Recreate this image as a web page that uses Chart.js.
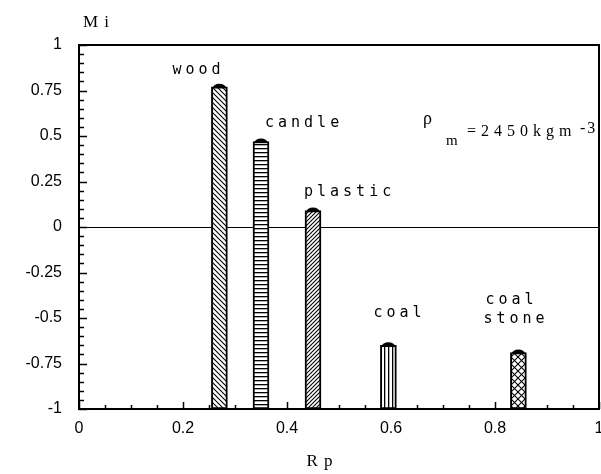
<!DOCTYPE html>
<html>
<head>
<meta charset="utf-8">
<script src="https://cdn.jsdelivr.net/npm/chart.js@4/dist/chart.umd.min.js"></script>
<style>
  html, body { margin: 0; padding: 0; background: #fff; }
  #wrap { width: 601px; height: 474px; }
</style>
</head>
<body>
<div id="wrap"><canvas id="c" width="601" height="474"></canvas></div>
<script>
// Particle materials, their Rp position and measured Mi value
const materials = ['wood', 'candle', 'plastic', 'coal', 'coal stone'];
const rpValues  = [0.27, 0.35, 0.45, 0.595, 0.845];
const miValues  = [0.77, 0.47, 0.09, -0.65, -0.69];
const hatchKinds = ['back', 'horiz', 'fwd', 'vert', 'cross'];

// Axis ticks
const xTicks = [0, 0.2, 0.4, 0.6, 0.8, 1];
const yTicks = [-1, -0.75, -0.5, -0.25, 0, 0.25, 0.5, 0.75, 1];
const yBase = -1;

// Hatch patterns for the bar fills
function makePattern(kind) {
  const sizes = { back: 5, fwd: 4, horiz: 4, vert: 4, cross: 7 };
  const s = sizes[kind];
  const c = document.createElement('canvas');
  c.width = s; c.height = s;
  const g = c.getContext('2d');
  g.fillStyle = '#fff';
  g.fillRect(0, 0, s, s);
  g.strokeStyle = '#000';
  g.fillStyle = '#000';
  g.lineWidth = 1.1;
  const line = (x1, y1, x2, y2) => { g.beginPath(); g.moveTo(x1, y1); g.lineTo(x2, y2); g.stroke(); };
  if (kind === 'back' || kind === 'cross') {
    line(-1, -1, s + 1, s + 1);
    line(-1, s - 1, 1, s + 1);
    line(s - 1, -1, s + 1, 1);
  }
  if (kind === 'fwd' || kind === 'cross') {
    line(-1, s + 1, s + 1, -1);
    line(-1, 1, 1, -1);
    line(s - 1, s + 1, s + 1, s - 1);
  }
  if (kind === 'horiz') g.fillRect(0, 0, s, 1.3);
  if (kind === 'vert') g.fillRect(0, 0, 1.3, s);
  return g.createPattern(c, 'repeat');
}

// Label placement relative to each bar (pixel offsets from bar centre / top)
const labelOffsets = [
  [[-47, -17, 'wood']],
  [[4, -18, 'candle']],
  [[-9, -19, 'plastic']],
  [[-15, -32, 'coal']],
  [[-33, -52, 'coal'], [-35, -33, 'stone']]
];

const barTop = el => Math.min(el.y, el.base);

const decorPlugin = {
  id: 'decor',
  beforeDatasetsDraw(chart) {
    const { ctx, chartArea: a, scales: { x, y } } = chart;
    ctx.save();
    ctx.strokeStyle = '#000';
    ctx.lineWidth = 1.2;
    // zero reference line
    const y0 = Math.round(y.getPixelForValue(0)) + 0.5;
    ctx.beginPath(); ctx.moveTo(a.left, y0); ctx.lineTo(a.right, y0); ctx.stroke();
    // inward ticks on the left axis
    ctx.lineWidth = 1.5;
    for (let i = 0; i <= 40; i++) {
      const v = -1 + i * 0.05;
      const major = i % 5 === 0;
      const py = Math.round(y.getPixelForValue(v)) + 0.5;
      ctx.beginPath(); ctx.moveTo(a.left, py); ctx.lineTo(a.left + (major ? 8 : 5), py); ctx.stroke();
    }
    // inward ticks on the bottom axis
    for (let i = 0; i <= 20; i++) {
      const v = i * 0.05;
      const major = i % 4 === 0;
      const px = Math.round(x.getPixelForValue(v)) + 0.5;
      ctx.beginPath(); ctx.moveTo(px, a.bottom); ctx.lineTo(px, a.bottom - (major ? 7 : 4)); ctx.stroke();
    }
    ctx.restore();
  },
  afterDatasetsDraw(chart) {
    const { ctx, chartArea: a } = chart;
    const meta = chart.getDatasetMeta(0);
    ctx.save();
    // rounded caps on the bar tops
    ctx.fillStyle = '#000';
    meta.data.forEach(el => {
      ctx.beginPath();
      ctx.ellipse(el.x, barTop(el) + 1, el.width / 2 - 1.5, 4, 0, Math.PI, 2 * Math.PI);
      ctx.fill();
    });
    // frame
    ctx.strokeStyle = '#000';
    ctx.lineWidth = 2;
    ctx.strokeRect(a.left, a.top, a.right - a.left, a.bottom - a.top);

    // material names
    ctx.font = '15px "DejaVu Sans Mono"';
    ctx.letterSpacing = '4px';
    ctx.textBaseline = 'middle';
    ctx.textAlign = 'left';
    meta.data.forEach((el, i) => {
      labelOffsets[i].forEach(([dx, dy, txt]) => ctx.fillText(txt, el.x + dx, barTop(el) + dy));
    });

    // density annotation
    ctx.font = '18px "Liberation Serif"';
    ctx.letterSpacing = '0px';
    ctx.fillText('ρ', 423, 119);
    ctx.font = '15px "Liberation Serif"';
    ctx.fillText('m', 446, 141);
    ctx.font = '16px "Liberation Serif"';
    ctx.letterSpacing = '5px';
    ctx.fillText('=2450kgm', 467, 132);
    ctx.letterSpacing = '2px';
    ctx.fillText('-3', 580, 129);

    // axis titles
    ctx.font = '17px "Liberation Serif"';
    ctx.letterSpacing = '1px';
    ctx.fillText('M i', 83, 23);
    ctx.textAlign = 'center';
    ctx.fillText('R p', 320, 462);
    ctx.restore();
  }
};

new Chart(document.getElementById('c'), {
  type: 'bar',
  data: {
    datasets: [{
      label: 'Mi',
      data: rpValues.map((rp, i) => ({ x: rp, y: [yBase, miValues[i]] })),
      backgroundColor: hatchKinds.map(makePattern),
      borderColor: '#000',
      borderWidth: 2,
      borderSkipped: false,
      barThickness: 16
    }]
  },
  options: {
    responsive: false,
    animation: false,
    devicePixelRatio: 1,
    layout: { padding: { left: 0, right: 2, top: 45, bottom: 0 } },
    plugins: { legend: { display: false }, tooltip: { enabled: false } },
    scales: {
      x: {
        type: 'linear',
        min: 0, max: 1,
        offset: false,
        afterBuildTicks: s => { s.ticks = xTicks.map(v => ({ value: v })); },
        afterFit: s => { s.height = 65; s.paddingLeft = 0; s.paddingRight = 0; },
        ticks: {
          color: '#000', padding: 10, maxRotation: 0, autoSkip: false,
          font: { family: 'Liberation Sans', size: 16 },
          callback: v => String(+v.toFixed(2))
        },
        grid: { display: false, drawTicks: false, offset: false },
        border: { display: false }
      },
      y: {
        type: 'linear',
        min: -1, max: 1,
        afterBuildTicks: s => { s.ticks = yTicks.map(v => ({ value: v })); },
        afterFit: s => { s.width = 79; s.paddingTop = 0; s.paddingBottom = 0; },
        ticks: {
          color: '#000', padding: 17, autoSkip: false,
          font: { family: 'Liberation Sans', size: 16 },
          callback: v => String(+v.toFixed(2))
        },
        grid: { display: false, drawTicks: false },
        border: { display: false }
      }
    }
  },
  plugins: [decorPlugin]
});
</script>
</body>
</html>
